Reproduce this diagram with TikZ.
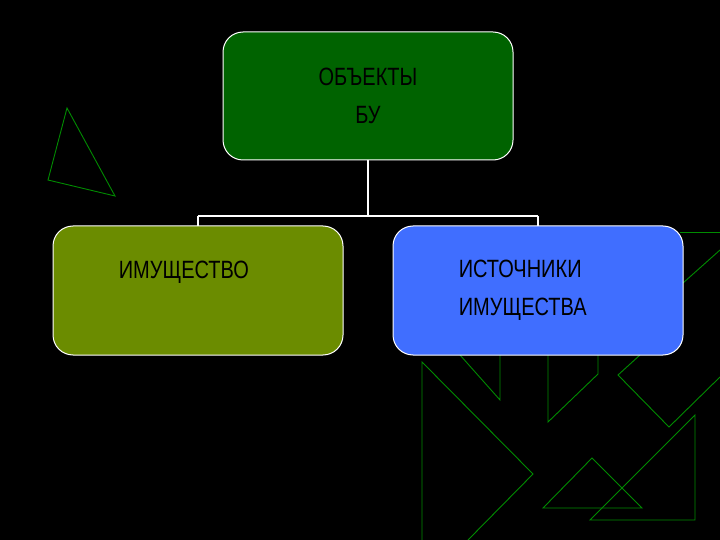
\documentclass[tikz,border=0pt]{standalone}
\usepackage{fontspec}
\setmainfont{Liberation Sans}
\begin{document}
\begin{tikzpicture}[x=1pt,y=-1pt,
  tri/.style={draw=green!55!black, line width=0.9pt},
  box/.style={draw=white, line width=1pt, rounded corners=20pt},
  lab/.style={font=\fontsize{25}{38}\selectfont, text=black, align=center, xscale=0.8}]
\fill[black] (0,0) rectangle (720,540);
\useasboundingbox (0,0) rectangle (720,540);
% background triangles
\draw[tri] (67,108)--(48,180)--(115,196)--cycle;
\draw[tri] (422,540)--(422,362)--(533,474)--(468,540);
\draw[tri] (460,355)--(500,400)--(500,355);
\draw[tri] (548,355)--(548,422)--(598,374)--(598,355);
\draw[tri] (640,355)--(618,375)--(669,427)--(720,377);
\draw[tri] (683,283)--(720,250);
\draw[tri] (680,232)--(720,232);
\draw[tri] (543,508)--(592,458)--(642,508)--cycle;
\draw[tri] (590,520)--(695,415)--(695,520)--cycle;
% boxes
\draw[box, fill=green!39!black] (223,32) rectangle (513,160);
\draw[box, fill={rgb,255:red,107;green,140;blue,0}] (53,226) rectangle (343,355);
\draw[box, fill={rgb,255:red,64;green,110;blue,255}] (393,226) rectangle (683,355);
\node[lab] (top) at (368,96) {ОБЪЕКТЫ\\БУ};
\node[lab, anchor=west] (left) at (116,272) {ИМУЩЕСТВО};
\node[lab, align=left, anchor=west] (right) at (456,290) {ИСТОЧНИКИ\\ ИМУЩЕСТВА};
\coordinate (a) at (368,160);
\coordinate (b) at (368,216);
\coordinate (c) at (198,216);
\coordinate (d) at (538,216);
\draw[white, line width=1.5pt] (a)--(b) (c)--(d) (c)--++(0,10) (d)--++(0,10);
\end{tikzpicture}
\end{document}
